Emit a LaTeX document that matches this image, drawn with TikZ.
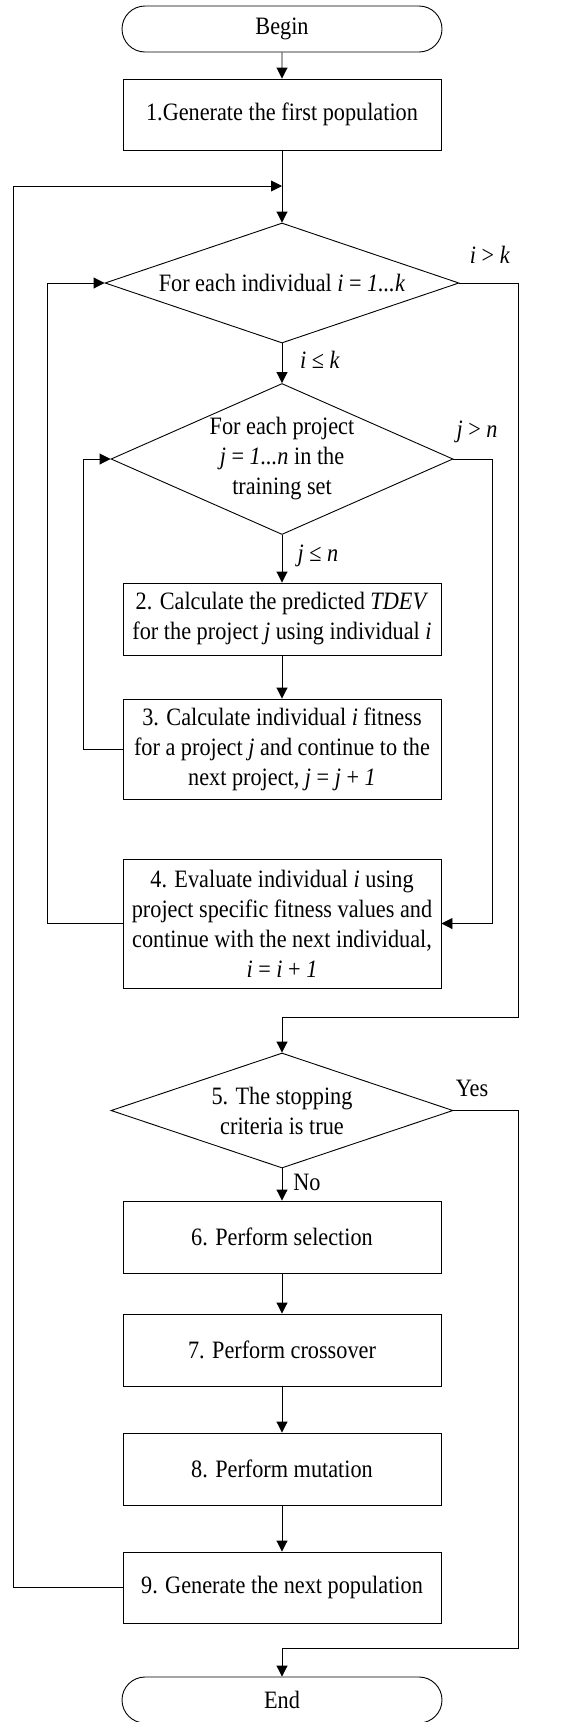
\documentclass[tikz,border=0pt]{standalone}
\usepackage{fontspec}
\setmainfont[FakeStretch=0.89]{Liberation Serif}
\usetikzlibrary{arrows.meta,shapes.geometric,shapes.misc}
\tikzset{
  base/.style={draw=black,line width=0.9pt,font=\fontsize{25}{30}\selectfont,align=center,inner sep=0pt},
  procbox/.style={base,rectangle,minimum width=318pt,minimum height=72pt},
  term/.style={base,rounded rectangle,minimum width=320pt,minimum height=46pt},
  decision/.style={base,diamond},
  lbl/.style={font=\fontsize{25}{30}\selectfont,inner sep=0pt},
  conn/.style={line width=0.9pt,-{Triangle[length=11pt,width=11pt]}},
  plain/.style={line width=0.9pt}
}
\begin{document}
\begin{tikzpicture}[x=1pt,y=-1pt]
\useasboundingbox (0,0) rectangle (584,1722);
\node[term] (begin) at (282,29) {Begin};
\node[procbox,minimum height=71pt] (b1) at (282,114.5) {1.Generate the first population};
\coordinate (merge) at (282,186);
\node[decision,aspect=2.95,minimum width=354pt,minimum height=120pt] (d1) at (282,283) {For each individual \textit{i} = \textit{1...k}};
\node[decision,aspect=2.26,minimum width=342pt,minimum height=151pt] (d2) at (282,459) {For each project\\\textit{j} = \textit{1...n} in the\\training set};
\node[procbox] (b2) at (282,619) {2. Calculate the predicted \textit{TDEV}\\for the project \textit{j} using individual \textit{i}};
\node[procbox,minimum height=100pt] (b3) at (282,749) {3. Calculate individual \textit{i} fitness\\for a project \textit{j} and continue to the\\next project, \textit{j} = \textit{j} + \textit{1}};
\node[procbox,minimum height=129pt] (b4) at (282,923.5) {4. Evaluate individual \textit{i} using\\project specific fitness values and\\continue with the next individual,\\\textit{i} = \textit{i} + \textit{1}};
\node[decision,aspect=2.97,minimum width=342pt,minimum height=115pt] (d5) at (282,1110.5) {5. The stopping\\criteria is true};
\node[procbox] (b6) at (282,1237) {6. Perform selection};
\node[procbox] (b7) at (282,1350) {7. Perform crossover};
\node[procbox] (b8) at (282,1469) {8. Perform mutation};
\node[procbox,minimum height=71pt] (b9) at (282,1587.5) {9. Generate the next population};
\node[term] (end) at (282,1700) {End};
% corner coordinates
\coordinate (c9a) at (13,1587.5);
\coordinate (c9b) at (13,186);
\coordinate (c4a) at (47,923.5);
\coordinate (c4b) at (47,283);
\coordinate (c3a) at (83,749);
\coordinate (c3b) at (83,459);
\coordinate (c2a) at (492,459);
\coordinate (c2b) at (492,923.5);
\coordinate (c1a) at (518,283);
\coordinate (c1b) at (518,1017);
\coordinate (c1c) at (282,1017);
\coordinate (c5a) at (518,1110.5);
\coordinate (c5b) at (518,1648);
\coordinate (c5c) at (282,1648);
% connectors
\draw[conn] (begin) -- (b1);
\draw[conn] (b1) -- (d1);
\draw[conn] (b9.west) -- (c9a) -- (c9b) -- (merge);
\draw[conn] (d1) -- (d2);
\draw[conn] (d2) -- (b2);
\draw[conn] (b2) -- (b3);
\draw[conn] (b3.west) -- (c3a) -- (c3b) -- (d2.west);
\draw[conn] (d2.east) -- (c2a) -- (c2b) -- (b4.east);
\draw[conn] (b4.west) -- (c4a) -- (c4b) -- (d1.west);
\draw[conn] (d1.east) -- (c1a) -- (c1b) -- (c1c) -- (d5.north);
\draw[conn] (d5) -- (b6);
\draw[conn] (b6) -- (b7);
\draw[conn] (b7) -- (b8);
\draw[conn] (b8) -- (b9);
\draw[conn] (d5.east) -- (c5a) -- (c5b) -- (c5c) -- (end.north);
% labels
\node[lbl] (lgk) at (490,255) {\textit{i} > \textit{k}};
\node[lbl] (lik) at (320,360) {\textit{i} ≤ \textit{k}};
\node[lbl] (lgn) at (477,432) {\textit{j} > \textit{n}};
\node[lbl] (ljn) at (318,556) {\textit{j} ≤ \textit{n}};
\node[lbl] (lyes) at (472,1088) {Yes};
\node[lbl] (lno) at (307,1182) {No};
\end{tikzpicture}
\end{document}
